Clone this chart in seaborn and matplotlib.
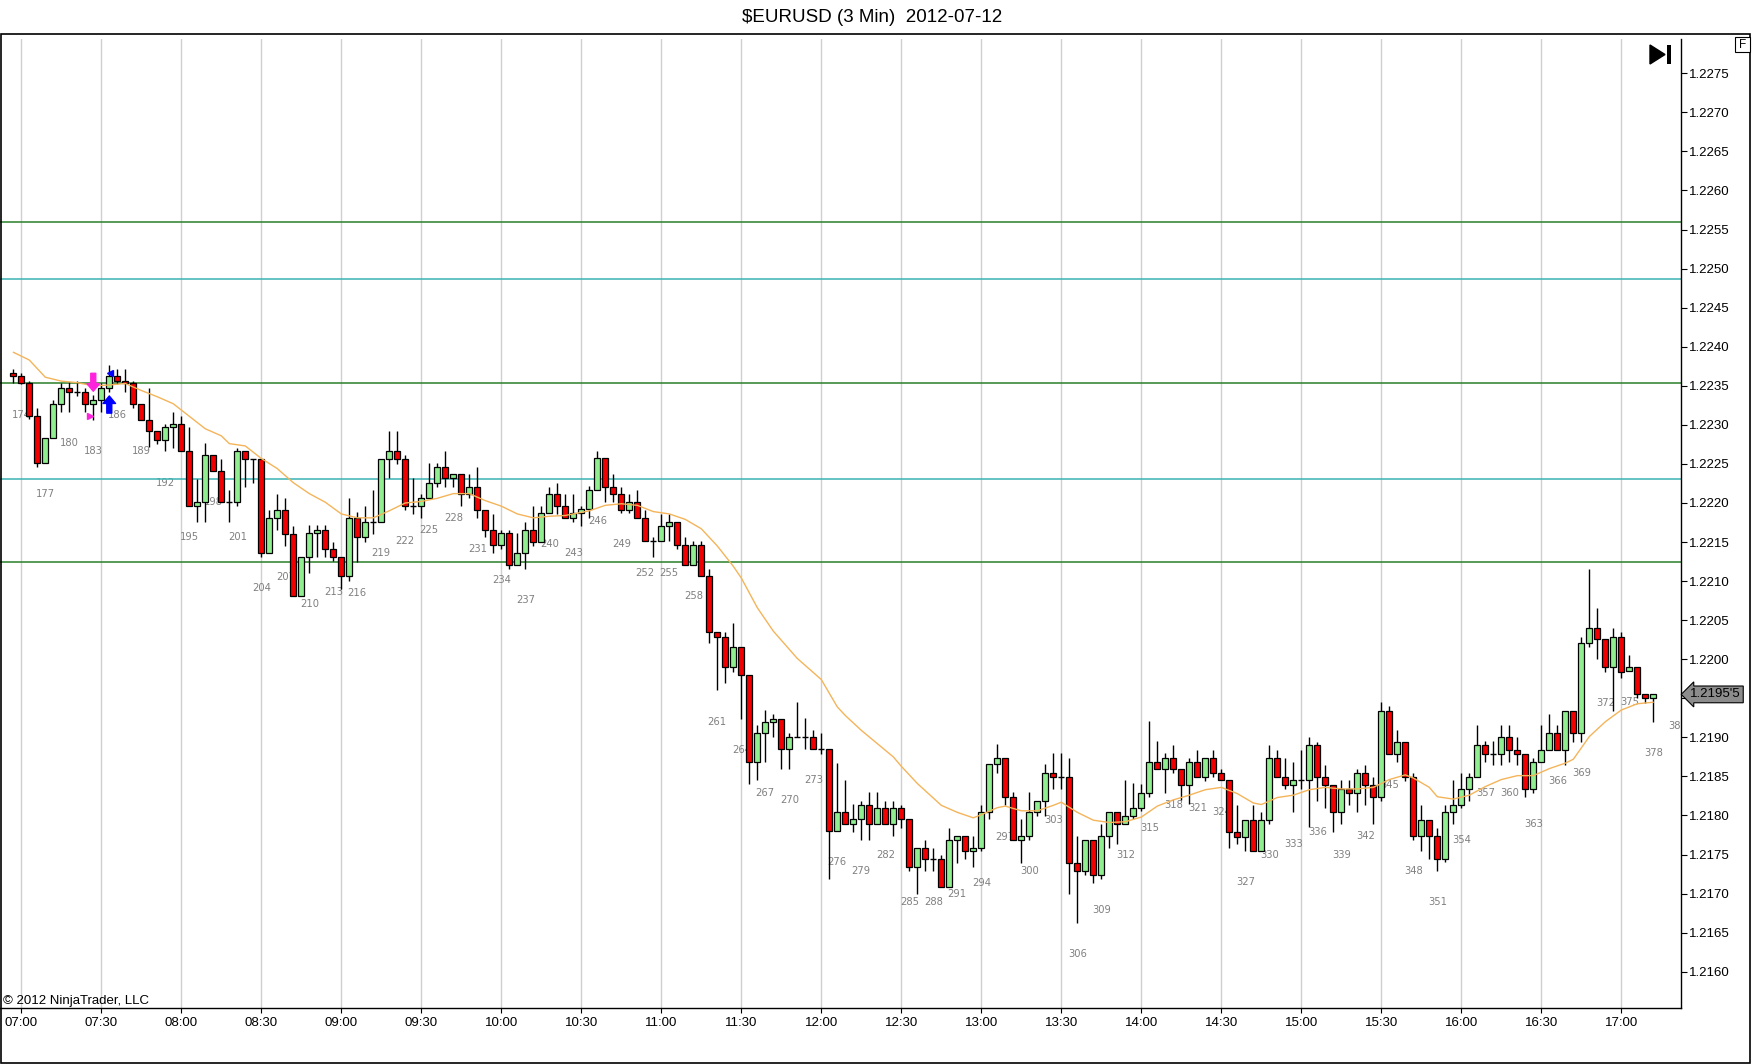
import numpy as np
import pandas as pd
import matplotlib
matplotlib.use("Agg")
import matplotlib.pyplot as plt
import matplotlib.transforms as mtransforms
from matplotlib.patches import Rectangle, Polygon
from matplotlib.ticker import FuncFormatter
import seaborn as sns

# ---- values (3 min bars, numbers 173..378) ----
first_bar = 173
bar_at_0700 = 174

opens = [
    1.22367, 1.22362, 1.22353, 1.22311, 1.22251, 1.22283, 1.22327, 1.22347, 1.22342, 1.22342,
    1.22327, 1.22332, 1.22347, 1.22362, 1.22356, 1.22353, 1.22327, 1.22306, 1.22292, 1.22281,
    1.22297, 1.22301, 1.22266, 1.22196, 1.22201, 1.22261, 1.22241, 1.22201, 1.22201, 1.22266,
    1.22256, 1.22256, 1.22136, 1.22181, 1.22191, 1.22160, 1.22081, 1.22131, 1.22161, 1.22166,
    1.22141, 1.22131, 1.22106, 1.22181, 1.22156, 1.22176, 1.22176, 1.22256, 1.22266, 1.22256,
    1.22196, 1.22196, 1.22206, 1.22226, 1.22246, 1.22232, 1.22237, 1.22212, 1.22221, 1.22191,
    1.22166, 1.22146, 1.22161, 1.22121, 1.22136, 1.22166, 1.22150, 1.22187, 1.22211, 1.22196,
    1.22181, 1.22187, 1.22192, 1.22217, 1.22257, 1.22221, 1.22211, 1.22191, 1.22201, 1.22181,
    1.22151, 1.22151, 1.22171, 1.22176, 1.22146, 1.22121, 1.22146, 1.22106, 1.22035, 1.22029,
    1.21990, 1.22016, 1.21980, 1.21869, 1.21905, 1.21920, 1.21924, 1.21885, 1.21900, 1.21900,
    1.21900, 1.21885, 1.21885, 1.21780, 1.21805, 1.21789, 1.21795, 1.21814, 1.21789, 1.21810,
    1.21789, 1.21810, 1.21795, 1.21734, 1.21758, 1.21744, 1.21744, 1.21709, 1.21769, 1.21774,
    1.21754, 1.21758, 1.21804, 1.21866, 1.21874, 1.21824, 1.21769, 1.21774, 1.21804, 1.21819,
    1.21855, 1.21849, 1.21849, 1.21739, 1.21729, 1.21769, 1.21724, 1.21774, 1.21804, 1.21789,
    1.21799, 1.21810, 1.21829, 1.21869, 1.21860, 1.21874, 1.21860, 1.21839, 1.21869, 1.21849,
    1.21874, 1.21854, 1.21845, 1.21779, 1.21773, 1.21794, 1.21754, 1.21794, 1.21874, 1.21849,
    1.21839, 1.21845, 1.21845, 1.21890, 1.21849, 1.21839, 1.21804, 1.21834, 1.21829, 1.21854,
    1.21839, 1.21824, 1.21934, 1.21879, 1.21894, 1.21849, 1.21774, 1.21794, 1.21774, 1.21744,
    1.21804, 1.21814, 1.21834, 1.21849, 1.21890, 1.21879, 1.21879, 1.21900, 1.21884, 1.21879,
    1.21834, 1.21869, 1.21884, 1.21905, 1.21884, 1.21934, 1.21905, 1.22021, 1.22040, 1.22026,
    1.21990, 1.22029, 1.21985, 1.21990, 1.21956, 1.21950,
]
highs = [
    1.22371, 1.22367, 1.22356, 1.22322, 1.22283, 1.22332, 1.22353, 1.22355, 1.22356, 1.22347,
    1.22338, 1.22353, 1.22377, 1.22372, 1.22372, 1.22356, 1.22327, 1.22347, 1.22292, 1.22301,
    1.22317, 1.22311, 1.22297, 1.22231, 1.22277, 1.22261, 1.22256, 1.22216, 1.22271, 1.22266,
    1.22256, 1.22256, 1.22191, 1.22211, 1.22206, 1.22171, 1.22131, 1.22172, 1.22172, 1.22172,
    1.22150, 1.22131, 1.22207, 1.22188, 1.22196, 1.22217, 1.22256, 1.22292, 1.22292, 1.22262,
    1.22232, 1.22212, 1.22251, 1.22251, 1.22266, 1.22237, 1.22237, 1.22237, 1.22246, 1.22191,
    1.22186, 1.22166, 1.22166, 1.22161, 1.22176, 1.22196, 1.22196, 1.22221, 1.22226, 1.22211,
    1.22212, 1.22196, 1.22222, 1.22267, 1.22257, 1.22237, 1.22221, 1.22211, 1.22216, 1.22191,
    1.22156, 1.22186, 1.22186, 1.22176, 1.22156, 1.22151, 1.22151, 1.22116, 1.22035, 1.22035,
    1.22046, 1.22016, 1.21980, 1.21916, 1.21935, 1.21930, 1.21924, 1.21905, 1.21945, 1.21925,
    1.21910, 1.21905, 1.21885, 1.21867, 1.21845, 1.21815, 1.21819, 1.21830, 1.21830, 1.21819,
    1.21819, 1.21814, 1.21795, 1.21758, 1.21769, 1.21758, 1.21749, 1.21784, 1.21774, 1.21774,
    1.21774, 1.21814, 1.21866, 1.21891, 1.21874, 1.21830, 1.21795, 1.21830, 1.21819, 1.21866,
    1.21880, 1.21880, 1.21874, 1.21774, 1.21769, 1.21769, 1.21789, 1.21804, 1.21804, 1.21845,
    1.21842, 1.21840, 1.21921, 1.21895, 1.21880, 1.21890, 1.21860, 1.21874, 1.21884, 1.21874,
    1.21884, 1.21860, 1.21845, 1.21814, 1.21794, 1.21814, 1.21804, 1.21890, 1.21884, 1.21874,
    1.21869, 1.21884, 1.21900, 1.21894, 1.21865, 1.21839, 1.21845, 1.21845, 1.21860, 1.21865,
    1.21849, 1.21945, 1.21940, 1.21910, 1.21894, 1.21854, 1.21814, 1.21794, 1.21784, 1.21814,
    1.21845, 1.21855, 1.21855, 1.21916, 1.21895, 1.21895, 1.21916, 1.21916, 1.21900, 1.21879,
    1.21874, 1.21916, 1.21930, 1.21916, 1.21934, 1.21934, 1.22029, 1.22116, 1.22066, 1.22026,
    1.22040, 1.22035, 1.22006, 1.21990, 1.21956, 1.21956,
]
lows = [
    1.22353, 1.22352, 1.22307, 1.22246, 1.22251, 1.22283, 1.22317, 1.22317, 1.22337, 1.22317,
    1.22306, 1.22317, 1.22342, 1.22352, 1.22342, 1.22322, 1.22306, 1.22272, 1.22276, 1.22266,
    1.22271, 1.22266, 1.22196, 1.22176, 1.22176, 1.22241, 1.22201, 1.22176, 1.22196, 1.22221,
    1.22226, 1.22131, 1.22136, 1.22166, 1.22145, 1.22081, 1.22081, 1.22111, 1.22131, 1.22131,
    1.22126, 1.22090, 1.22100, 1.22125, 1.22150, 1.22160, 1.22176, 1.22232, 1.22250, 1.22191,
    1.22186, 1.22181, 1.22206, 1.22221, 1.22221, 1.22221, 1.22196, 1.22206, 1.22181, 1.22156,
    1.22136, 1.22141, 1.22116, 1.22121, 1.22116, 1.22145, 1.22150, 1.22187, 1.22186, 1.22181,
    1.22176, 1.22171, 1.22181, 1.22217, 1.22201, 1.22201, 1.22187, 1.22187, 1.22181, 1.22151,
    1.22131, 1.22151, 1.22151, 1.22141, 1.22121, 1.22121, 1.22106, 1.22021, 1.21960, 1.21970,
    1.21984, 1.21924, 1.21840, 1.21845, 1.21869, 1.21900, 1.21860, 1.21860, 1.21900, 1.21885,
    1.21885, 1.21879, 1.21719, 1.21780, 1.21789, 1.21779, 1.21769, 1.21769, 1.21789, 1.21789,
    1.21774, 1.21784, 1.21729, 1.21699, 1.21729, 1.21729, 1.21709, 1.21709, 1.21739, 1.21744,
    1.21734, 1.21754, 1.21795, 1.21855, 1.21813, 1.21769, 1.21739, 1.21769, 1.21799, 1.21799,
    1.21834, 1.21834, 1.21699, 1.21663, 1.21724, 1.21713, 1.21719, 1.21759, 1.21763, 1.21789,
    1.21795, 1.21806, 1.21824, 1.21860, 1.21829, 1.21854, 1.21820, 1.21815, 1.21849, 1.21844,
    1.21849, 1.21845, 1.21758, 1.21764, 1.21755, 1.21754, 1.21754, 1.21789, 1.21849, 1.21834,
    1.21804, 1.21834, 1.21785, 1.21819, 1.21810, 1.21779, 1.21789, 1.21814, 1.21804, 1.21814,
    1.21789, 1.21819, 1.21879, 1.21869, 1.21844, 1.21769, 1.21755, 1.21744, 1.21729, 1.21740,
    1.21789, 1.21809, 1.21819, 1.21849, 1.21869, 1.21865, 1.21865, 1.21869, 1.21865, 1.21824,
    1.21829, 1.21869, 1.21884, 1.21884, 1.21865, 1.21894, 1.21894, 1.22016, 1.22000, 1.21984,
    1.21934, 1.21976, 1.21985, 1.21950, 1.21944, 1.21920,
]
closes = [
    1.22362, 1.22353, 1.22311, 1.22251, 1.22283, 1.22327, 1.22347, 1.22342, 1.22342, 1.22327,
    1.22332, 1.22347, 1.22362, 1.22356, 1.22353, 1.22327, 1.22306, 1.22292, 1.22281, 1.22297,
    1.22301, 1.22266, 1.22196, 1.22201, 1.22261, 1.22241, 1.22201, 1.22201, 1.22266, 1.22256,
    1.22256, 1.22136, 1.22181, 1.22191, 1.22160, 1.22081, 1.22131, 1.22161, 1.22166, 1.22141,
    1.22131, 1.22106, 1.22181, 1.22156, 1.22176, 1.22176, 1.22256, 1.22266, 1.22256, 1.22196,
    1.22196, 1.22206, 1.22226, 1.22246, 1.22232, 1.22237, 1.22212, 1.22221, 1.22191, 1.22166,
    1.22146, 1.22161, 1.22121, 1.22136, 1.22166, 1.22150, 1.22187, 1.22211, 1.22196, 1.22181,
    1.22187, 1.22192, 1.22217, 1.22257, 1.22221, 1.22211, 1.22191, 1.22201, 1.22181, 1.22151,
    1.22151, 1.22171, 1.22176, 1.22146, 1.22121, 1.22146, 1.22106, 1.22035, 1.22029, 1.21990,
    1.22016, 1.21980, 1.21869, 1.21905, 1.21920, 1.21924, 1.21885, 1.21900, 1.21900, 1.21900,
    1.21885, 1.21885, 1.21780, 1.21805, 1.21789, 1.21795, 1.21814, 1.21789, 1.21810, 1.21789,
    1.21810, 1.21795, 1.21734, 1.21758, 1.21744, 1.21744, 1.21709, 1.21769, 1.21774, 1.21754,
    1.21758, 1.21804, 1.21866, 1.21874, 1.21824, 1.21769, 1.21774, 1.21804, 1.21819, 1.21855,
    1.21849, 1.21849, 1.21739, 1.21729, 1.21769, 1.21724, 1.21774, 1.21804, 1.21789, 1.21799,
    1.21810, 1.21829, 1.21869, 1.21860, 1.21874, 1.21860, 1.21839, 1.21869, 1.21849, 1.21874,
    1.21854, 1.21845, 1.21779, 1.21773, 1.21794, 1.21754, 1.21794, 1.21874, 1.21849, 1.21839,
    1.21845, 1.21845, 1.21890, 1.21849, 1.21839, 1.21804, 1.21834, 1.21829, 1.21854, 1.21839,
    1.21824, 1.21934, 1.21879, 1.21894, 1.21849, 1.21774, 1.21794, 1.21774, 1.21744, 1.21804,
    1.21814, 1.21834, 1.21849, 1.21890, 1.21879, 1.21879, 1.21900, 1.21884, 1.21879, 1.21834,
    1.21869, 1.21884, 1.21905, 1.21884, 1.21934, 1.21905, 1.22021, 1.22040, 1.22026, 1.21990,
    1.22029, 1.21984, 1.21990, 1.21956, 1.21950, 1.21955,
]

# orange moving average, read at a set of bars
ma_bars = [173, 175, 177, 179, 181, 183, 185, 187, 189, 191, 193, 195, 197, 199, 200, 202,
           204, 206, 208, 210, 212, 214, 216, 218, 220, 222, 224, 226, 228, 230, 232, 234,
           236, 238, 240, 242, 245, 247, 249, 251, 253, 255, 257, 259, 261, 263, 264, 266,
           268, 271, 274, 276, 277, 279, 281, 283, 284, 286, 289, 291, 293, 294, 296, 297,
           299, 301, 303, 304, 306, 308, 310, 312, 314, 316, 318, 320, 322, 324, 326, 328,
           329, 331, 333, 335, 337, 339, 341, 343, 345, 347, 348, 350, 351, 353, 355, 357,
           359, 361, 363, 365, 367, 368, 370, 372, 374, 376, 378]
ma_values = [1.22393, 1.22383, 1.22361, 1.22356, 1.22354, 1.22350, 1.22351, 1.22353,
             1.22344, 1.22336, 1.22327, 1.22311, 1.22295, 1.22286, 1.22276, 1.22273,
             1.22257, 1.22244, 1.22226, 1.22212, 1.22201, 1.22186, 1.22181, 1.22181,
             1.22190, 1.22200, 1.22202, 1.22206, 1.22212, 1.22212, 1.22203, 1.22196,
             1.22186, 1.22181, 1.22183, 1.22184, 1.22190, 1.22197, 1.22199, 1.22197,
             1.22189, 1.22186, 1.22179, 1.22167, 1.22145, 1.22119, 1.22104, 1.22066,
             1.22036, 1.22001, 1.21974, 1.21939, 1.21928, 1.21909, 1.21892, 1.21875,
             1.21863, 1.21841, 1.21813, 1.21804, 1.21797, 1.21801, 1.21810, 1.21812,
             1.21806, 1.21806, 1.21813, 1.21817, 1.21804, 1.21794, 1.21791, 1.21792,
             1.21798, 1.21812, 1.21820, 1.21826, 1.21833, 1.21836, 1.21828, 1.21816,
             1.21814, 1.21823, 1.21826, 1.21833, 1.21836, 1.21834, 1.21834, 1.21836,
             1.21846, 1.21852, 1.21848, 1.21836, 1.21824, 1.21821, 1.21826, 1.21837,
             1.21846, 1.21851, 1.21851, 1.21860, 1.21867, 1.21872, 1.21901, 1.21920,
             1.21935, 1.21943, 1.21945]

# horizontal price levels
level_prices = [1.22560, 1.22487, 1.22354, 1.22231, 1.22124]
level_kinds = ["green", "teal", "green", "teal", "green"]

# entry / exit signal markers
arrow_down = (183, 1.22366, 1.22343)   # bar, tail, tip
arrow_up = (185, 1.22315, 1.22337)
tri_left = (185.1, 1.22367)
tri_right = (182.6, 1.22311)

time_labels = ["07:00", "07:30", "08:00", "08:30", "09:00", "09:30", "10:00", "10:30",
               "11:00", "11:30", "12:00", "12:30", "13:00", "13:30", "14:00", "14:30",
               "15:00", "15:30", "16:00", "16:30", "17:00"]
next_label_bar = 381
title_text = "\\$EURUSD (3 Min)  2012-07-12"

# ---- frame ----
df = pd.DataFrame({"bar": np.arange(first_bar, first_bar + len(opens)),
                   "open": opens, "high": highs, "low": lows, "close": closes})

sns.set_theme(style="white")
plt.rcParams["font.family"] = ["Liberation Sans", "DejaVu Sans"]

W, H = 1752, 1064
UP, DOWN = "#90ee90", "#f00000"
LEVEL_COLORS = {"green": "#2a7f2a", "teal": "#3bb3b3"}

fig = plt.figure(figsize=(W / 100, H / 100), dpi=100)
ax = fig.add_axes([0, 55.7 / H, 1681 / W, 969.3 / H])


def fx(px):
    return px / W


def fy(py):
    return 1 - py / H


# grid + levels
tick_pos = [bar_at_0700 + (int(t[:2]) * 60 + int(t[3:]) - 420) / 3 for t in time_labels]
for lp, kind in zip(level_prices, level_kinds):
    ax.axhline(lp, color=LEVEL_COLORS[kind], lw=1.1, zorder=1.8)

# bar numbers under every third bar
label_gap = 0.0004
lab = df[df["bar"] % 3 == 0]
for b, lo in zip(lab["bar"], lab["low"]):
    ax.text(b, lo - label_gap, str(b), ha="center", va="center", fontsize=7.2,
            color="#808080", family=["DejaVu Sans"], zorder=1.5)
ax.text(next_label_bar, df["close"].iloc[-1] - label_gap, str(next_label_bar), ha="center",
        va="center", fontsize=7.2, color="#808080", family=["DejaVu Sans"], zorder=1.5,
        clip_on=True)

# candles
up = df[df["close"] > df["open"]]
down = df[df["close"] < df["open"]]
flat = df[df["close"] == df["open"]]
ax.vlines(df["bar"], df["low"], df["high"], color="black", lw=1.0, zorder=2)
ax.bar(up["bar"], up["close"] - up["open"], bottom=up["open"], width=0.72, color=UP,
       edgecolor="black", linewidth=0.9, zorder=3)
ax.bar(down["bar"], down["open"] - down["close"], bottom=down["close"], width=0.72,
       color=DOWN, edgecolor="black", linewidth=0.9, zorder=3)
ax.hlines(flat["close"], flat["bar"] - 0.36, flat["bar"] + 0.36, color="black", lw=1.0, zorder=3)

# moving average
sns.lineplot(x=ma_bars, y=ma_values, ax=ax, color="#f4b45a", lw=1.0, zorder=4)

# signals
ax.annotate("", xy=(arrow_down[0], arrow_down[2]), xytext=(arrow_down[0], arrow_down[1]),
            arrowprops=dict(arrowstyle="simple,head_width=0.75,head_length=0.45,tail_width=0.3",
                            color="#ff22dd", shrinkA=0, shrinkB=0), zorder=5)
ax.annotate("", xy=(arrow_up[0], arrow_up[2]), xytext=(arrow_up[0], arrow_up[1]),
            arrowprops=dict(arrowstyle="simple,head_width=0.75,head_length=0.45,tail_width=0.3",
                            color="#0000ff", shrinkA=0, shrinkB=0), zorder=5)
ax.plot([tri_left[0]], [tri_left[1]], marker="<", ms=5, color="#0000ff", mec="#0000ff", zorder=5)
ax.plot([tri_right[0]], [tri_right[1]], marker=">", ms=4.5, color="#ff22dd", mec="#ff22dd", zorder=5)

# axes
last = df["close"].iloc[-1]
ax.set_xlim(171.34, 381.46)
ax.set_ylim(1.215532, 1.227939)
ax.set_xticks(tick_pos)
ax.set_xticklabels(time_labels)
ax.set_yticks(np.arange(1.2160, 1.22751, 0.0005))
# the tick hidden under the last-price marker gets no label
ax.yaxis.set_major_formatter(FuncFormatter(
    lambda v, pos: "" if abs(v - last) < 0.0002 else f"{v:.4f}"))
ax.yaxis.tick_right()
ax.tick_params(axis="y", right=True, left=False, labelright=True, labelleft=False,
               length=4, width=0.8, pad=1.5, labelsize=9.5, colors="black")
ax.tick_params(axis="x", bottom=True, length=3.6, width=0.8, pad=2.5, labelsize=9.5,
               colors="black")
ax.grid(axis="x", color="#cfcfcf", lw=1.0, zorder=0)
ax.grid(axis="y", visible=False)
ax.set_axisbelow(True)
ax.set_xlabel("")
ax.set_ylabel("")
for side in ("top", "left"):
    ax.spines[side].set_visible(False)
for side in ("right", "bottom"):
    ax.spines[side].set_color("black")
    ax.spines[side].set_linewidth(1.0)

# last price marker on the axis
s = f"{last:.5f}"
trans = mtransforms.blended_transform_factory(ax.transAxes, ax.transData)
ax.text(1.0055, last, s[:-1] + "'" + s[-1], transform=trans, ha="left", va="center",
        fontsize=9.5, color="black", clip_on=False, zorder=10,
        bbox=dict(boxstyle="larrow,pad=0.18", fc="#8c8c8c", ec="black", lw=0.8))

ax.text(3 / 1681, 7.6 / 969.3, "\u00a9 2012 NinjaTrader, LLC", transform=ax.transAxes,
        ha="left", va="center", fontsize=9.5, color="black")

# outer frame, title, chart buttons
fig.add_artist(Rectangle((fx(0.5), fy(1063)), fx(1749.5), fy(34) - fy(1063), fill=False,
                         ec="black", lw=1.2, transform=fig.transFigure))
fig.text(fx(872), fy(17), title_text, ha="center", va="center", fontsize=13.5, color="black")
fig.add_artist(Rectangle((fx(1735), fy(52)), fx(15), fy(37) - fy(52), fc="white", ec="black",
                         lw=0.8, transform=fig.transFigure))
fig.text(fx(1742.5), fy(44.5), "F", ha="center", va="center", fontsize=8.5, color="black")
fig.add_artist(Polygon([(fx(1650), fy(45)), (fx(1650), fy(64)), (fx(1665), fy(54.5))],
                       closed=True, fc="black", ec="black", transform=fig.transFigure))
fig.add_artist(Rectangle((fx(1667), fy(64)), fx(4), fy(45) - fy(64), fc="black", ec="none",
                         transform=fig.transFigure))

fig.savefig("out.png", dpi=100)
